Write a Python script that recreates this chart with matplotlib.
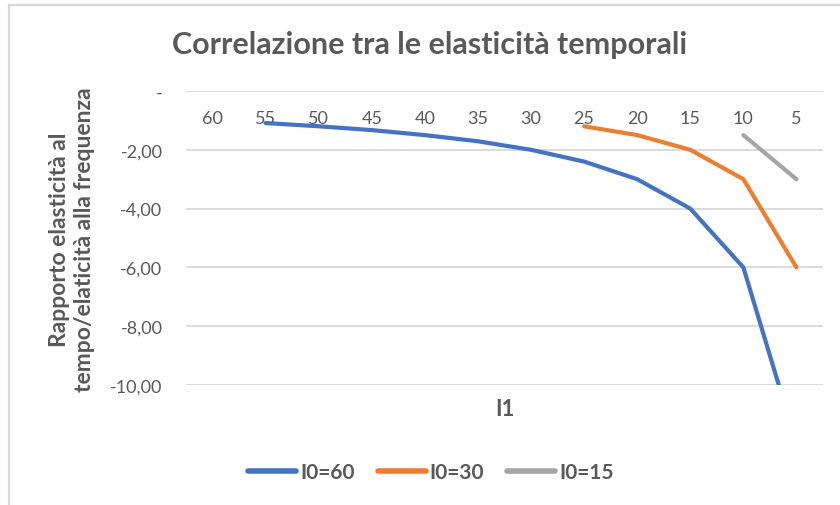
import matplotlib.pyplot as plt
from matplotlib.lines import Line2D
import numpy as np

plt.rcParams['font.family'] = ['Lato', 'DejaVu Sans']

# categories (I1), left to right as on the chart
i1_labels = ["60", "55", "50", "45", "40", "35", "30", "25", "20", "15", "10", "5"]

# series values, None where the series has no point
i0_60 = [None, -1.09, -1.20, -1.33, -1.50, -1.71, -2.00, -2.40, -3.00, -4.00, -6.00, -12.00]
i0_30 = [None, None, None, None, None, None, None, -1.20, -1.50, -2.00, -3.00, -6.00]
i0_15 = [None, None, None, None, None, None, None, None, None, None, -1.50, -3.00]

series_names = ["I0=60", "I0=30", "I0=15"]
colors = ["#4472C4", "#ED7D31", "#A5A5A5"]

ytick_vals = [0, -2, -4, -6, -8, -10]
ytick_labels = ["-", "-2,00", "-4,00", "-6,00", "-8,00", "-10,00"]

txt = "#595959"
W, H = 840, 506
fig = plt.figure(figsize=(W / 100, H / 100), dpi=100)

# chart border (top and left only visible)
fig.add_artist(Line2D([9 / W, 9 / W], [0, 1 - 6 / H], color="#D9D9D9", lw=1.6, transform=fig.transFigure))
fig.add_artist(Line2D([9 / W, 1], [1 - 6 / H, 1 - 6 / H], color="#D9D9D9", lw=1.6, transform=fig.transFigure))

ax = fig.add_axes([186 / W, 1 - 386 / H, (823 - 186) / W, (386 - 92) / H])
x = np.arange(len(i1_labels)) + 0.5

for vals, name, c in zip([i0_60, i0_30, i0_15], series_names, colors):
    y = np.array([np.nan if v is None else v for v in vals], dtype=float)
    ax.plot(x, y, color=c, lw=3, label=name, solid_capstyle="round", solid_joinstyle="round", zorder=3)

ax.set_xlim(0, len(i1_labels))
ax.set_ylim(-10, 0)
ax.set_yticks(ytick_vals)
ax.set_yticklabels(ytick_labels)
ax.yaxis.grid(True, color="#D9D9D9", lw=1.3)
ax.set_axisbelow(True)
for s in ax.spines.values():
    s.set_visible(False)
ax.tick_params(axis="y", length=0, pad=17, labelsize=13, labelcolor=txt)

ax.set_xticks(x)
ax.set_xticklabels(i1_labels)
ax.tick_params(axis="x", length=0, top=False, bottom=False, labeltop=True, labelbottom=False,
               pad=-25, labelsize=13, labelcolor=txt)

fig.text(505 / W, 1 - 410 / H, "I1", ha="center", va="center", fontsize=16, fontweight="bold", color=txt)
fig.text(430 / W, 1 - 45 / H, "Correlazione tra le elasticità temporali", ha="center", va="center",
         fontsize=22, fontweight="bold", color=txt)
fig.text(72 / W, 1 - 240 / H, "Rapporto elasticità al\ntempo/elaticità alla frequenza", ha="center", va="center",
         rotation=90, fontsize=16.5, fontweight="bold", color=txt, linespacing=1.25)

leg = fig.legend(loc="center", bbox_to_anchor=(431 / W, 1 - 473 / H), ncol=3, frameon=False,
                 handlelength=2.3, handletextpad=0.2, columnspacing=1.1,
                 prop={"size": 15, "weight": "bold"})
for t in leg.get_texts():
    t.set_color(txt)
for h in leg.get_lines():
    h.set_linewidth(4)

fig.savefig("out.png", dpi=100)
